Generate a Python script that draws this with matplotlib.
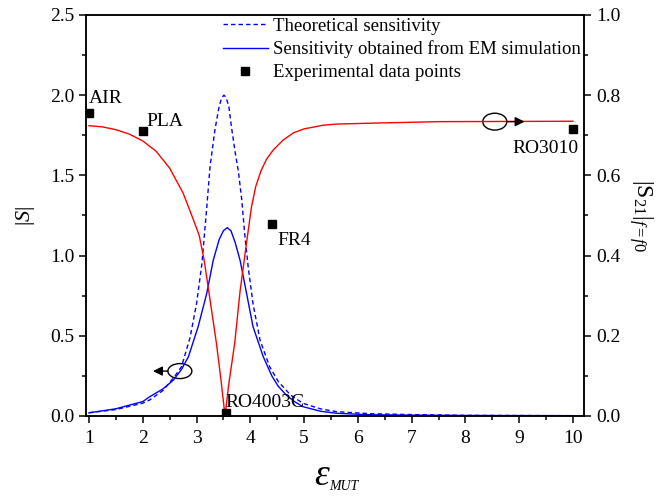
import matplotlib
matplotlib.use("Agg")
import matplotlib.pyplot as plt
from matplotlib.patches import Ellipse
from matplotlib.ticker import MultipleLocator

plt.rcParams['font.family'] = ['Liberation Serif', 'DejaVu Serif']
plt.rcParams['mathtext.fontset'] = 'custom'
plt.rcParams['mathtext.rm'] = 'Liberation Serif'
plt.rcParams['mathtext.it'] = 'Liberation Serif:italic'
plt.rcParams['mathtext.bf'] = 'Liberation Serif:bold'

# ---- data ----
# theoretical sensitivity |S| (left axis)
eps_theo = [1.0, 1.5, 2.0, 2.13, 2.38, 2.6, 2.72, 2.88, 3.0, 3.1, 3.19, 3.25, 3.34, 3.42, 3.47, 3.51,
            3.55, 3.6, 3.65, 3.72, 3.78, 3.84, 3.9, 3.96, 4.05, 4.18, 4.36, 4.52, 4.75, 4.98, 5.3, 5.6,
            6.2, 6.8, 8.0, 10.0]
S_theo = [0.02, 0.04, 0.08, 0.10, 0.16, 0.25, 0.307, 0.49, 0.70, 0.95, 1.30, 1.55, 1.78, 1.93, 1.985, 2.0,
          1.985, 1.93, 1.80, 1.64, 1.52, 1.35, 1.12, 0.93, 0.70, 0.474, 0.307, 0.215, 0.13, 0.079, 0.045, 0.027,
          0.015, 0.01, 0.004, 0.002]

# sensitivity from EM simulation |S| (left axis)
eps_em = [1.0, 1.5, 2.0, 2.13, 2.38, 2.57, 2.72, 2.85, 3.03, 3.19, 3.31, 3.42, 3.5, 3.57, 3.64,
          3.72, 3.81, 3.93, 4.05, 4.24, 4.4, 4.52, 4.67, 4.82, 4.98, 5.3, 5.6, 6.2, 7.0, 8.0, 10.0]
S_em = [0.02, 0.045, 0.09, 0.12, 0.17, 0.224, 0.29, 0.37, 0.557, 0.765, 0.97, 1.10, 1.155, 1.174, 1.155,
        1.08, 0.97, 0.765, 0.557, 0.37, 0.25, 0.185, 0.13, 0.09, 0.058, 0.03, 0.017, 0.008, 0.005, 0.003, 0.002]

# |S21| at f = f0 (right axis)
eps_s21 = [1.0, 1.25, 1.5, 1.75, 2.0, 2.25, 2.5, 2.75, 2.94, 3.05, 3.14, 3.24, 3.37, 3.45, 3.53,
           3.6, 3.71, 3.81, 3.93, 4.02, 4.1, 4.2, 4.3, 4.43, 4.61, 4.8, 5.0, 5.35, 5.6, 6.5, 7.5, 10.0]
S21 = [0.724, 0.721, 0.714, 0.703, 0.686, 0.660, 0.618, 0.556, 0.490, 0.450, 0.390, 0.300, 0.181, 0.095, 0.0,
       0.08, 0.182, 0.312, 0.432, 0.520, 0.572, 0.612, 0.640, 0.664, 0.688, 0.706, 0.716, 0.725, 0.728,
       0.731, 0.734, 0.735]

# experimental data points (right axis)
exp_names = ['AIR', 'PLA', 'FR4', 'RO4003C', 'RO3010']
exp_eps = [1.0, 2.0, 4.4, 3.55, 10.0]
exp_s21 = [0.756, 0.711, 0.479, 0.008, 0.715]

fig = plt.figure(figsize=(6.68, 4.96), dpi=100)
ax = fig.add_axes([0.1287, 0.1613, 0.7455, 0.8085])
ax2 = ax.twinx()

blue = '#0000ff'
red = '#ff0000'
l1, = ax.plot(eps_theo, S_theo, color=blue, lw=1.0, dashes=(3.2, 2.2), label='Theoretical sensitivity')
l2, = ax.plot(eps_em, S_em, color=blue, lw=1.0, label='Sensitivity obtained from EM simulation')
ax2.plot(eps_s21, S21, color=red, lw=1.0)
l3, = ax2.plot(exp_eps, exp_s21, linestyle='none', marker='s', markersize=5.5, color='k',
               label='Experimental data points')

ax.set_xlim(0.944, 10.204)
ax.set_ylim(0, 2.5)
ax2.set_ylim(0, 1.0)

ax.xaxis.set_major_locator(MultipleLocator(1))
ax.xaxis.set_minor_locator(MultipleLocator(0.5))
ax.yaxis.set_major_locator(MultipleLocator(0.5))
ax.yaxis.set_minor_locator(MultipleLocator(0.25))
ax2.yaxis.set_major_locator(MultipleLocator(0.2))
ax2.yaxis.set_minor_locator(MultipleLocator(0.1))
ax.yaxis.set_major_formatter(plt.FormatStrFormatter('%.1f'))
ax2.yaxis.set_major_formatter(plt.FormatStrFormatter('%.1f'))

fs = 14
for a in (ax, ax2):
    a.tick_params(which='major', direction='out', length=5, width=1.1, labelsize=fs)
    a.tick_params(which='minor', direction='out', length=3, width=1.1)
    for s in a.spines.values():
        s.set_linewidth(1.1)
ax.tick_params(axis='x', which='both', top=False, pad=5)
ax.tick_params(axis='y', which='both', right=False, pad=3)
ax2.tick_params(axis='y', which='both', pad=4)

ax.set_ylabel(r'$|S|$', fontsize=16)
ax.yaxis.set_label_coords(-0.098, 0.5)
ax2.set_ylabel(r'$|\mathrm{S}_{21}|_{f=f0}$', fontsize=17, rotation=270)
ax2.yaxis.set_label_coords(1.143, 0.5)

# x label: epsilon with small subscript
ax.text(0.458, -0.172, r'$\varepsilon$', transform=ax.transAxes, fontsize=27,
        ha='left', va='baseline')
ax.text(0.488, -0.1845, 'MUT', transform=ax.transAxes, fontsize=10, style='italic',
        ha='left', va='baseline')

# point labels
ax2.text(1.0, 0.780, 'AIR', fontsize=fs, ha='left', va='baseline')
ax2.text(2.07, 0.723, 'PLA', fontsize=fs, ha='left', va='baseline')
ax2.text(4.495, 0.4265, 'FR4', fontsize=fs, ha='left', va='baseline')
ax2.text(3.53, 0.022, 'RO4003C', fontsize=fs, ha='left', va='baseline')
ax2.text(10.11, 0.656, 'RO3010', fontsize=fs, ha='right', va='baseline')

# ellipses with arrows
ax.add_patch(Ellipse((2.69, 0.28), 0.446, 0.0935, fill=False, lw=1.0, color='k'))
ax.annotate('', xy=(2.19, 0.28), xytext=(2.467, 0.28),
            arrowprops=dict(arrowstyle='-|>', color='k', lw=1.0, mutation_scale=14,
                            shrinkA=0, shrinkB=0))
ax2.add_patch(Ellipse((8.546, 0.734), 0.446, 0.042, fill=False, lw=1.0, color='k'))
ax2.annotate('', xy=(9.1, 0.734), xytext=(8.769, 0.734),
             arrowprops=dict(arrowstyle='-|>', color='k', lw=1.0, mutation_scale=14,
                             shrinkA=0, shrinkB=0))

leg = ax2.legend(handles=[l1, l2, l3], loc='upper right', bbox_to_anchor=(1.0, 1.0),
                 frameon=False, fontsize=13.5, handlelength=2.4, handletextpad=0.3,
                 labelspacing=0.3, borderpad=0.05, borderaxespad=0.1)

fig.savefig('out.png', dpi=100)
